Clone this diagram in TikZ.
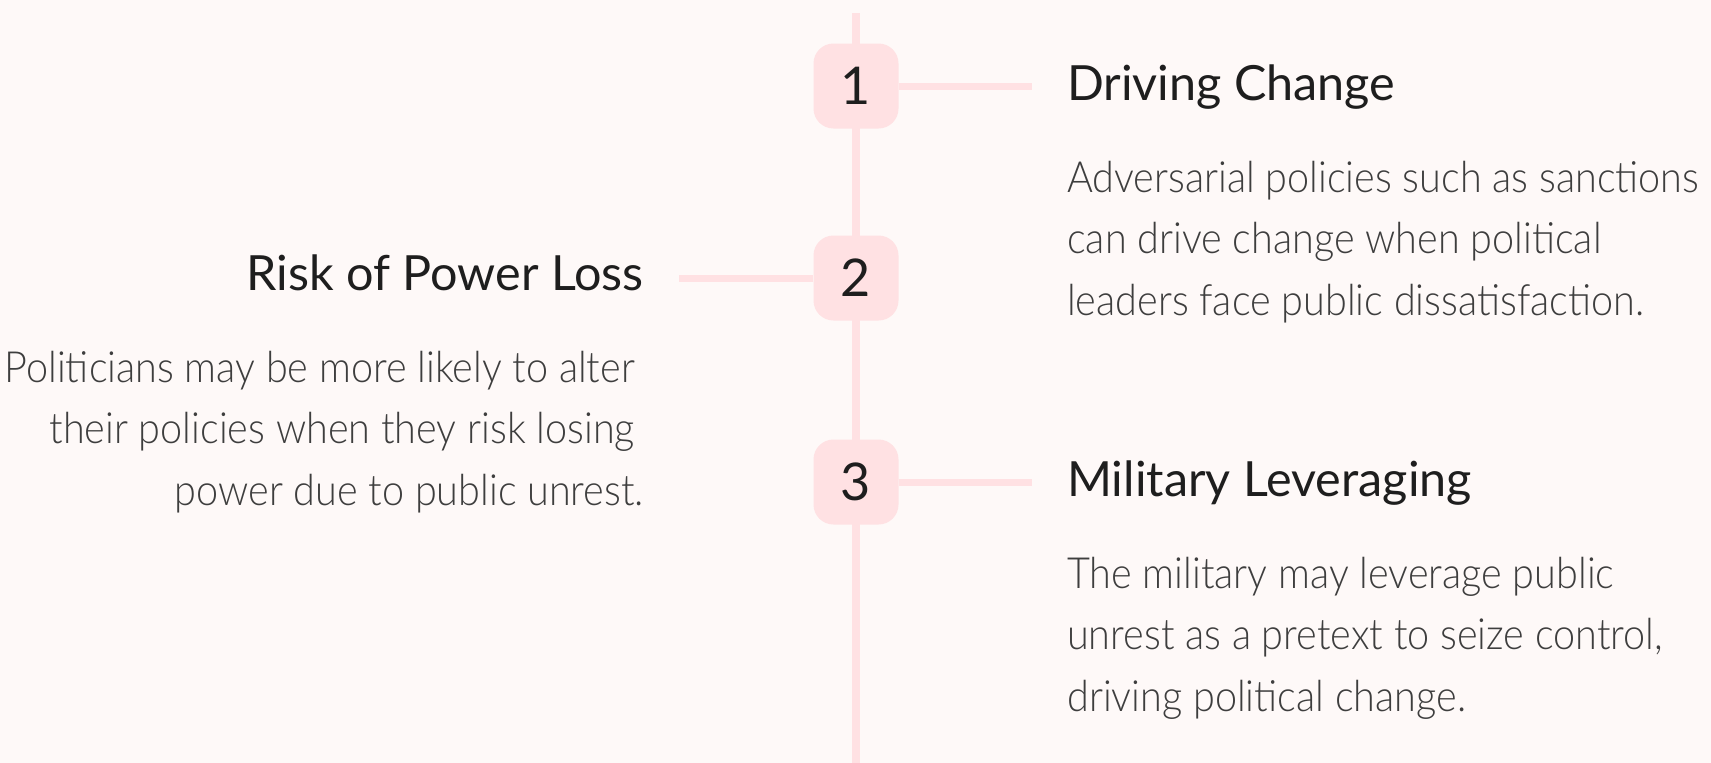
\documentclass[tikz,border=0pt]{standalone}
\usepackage{fontspec}
\setmainfont{Lato}
\newfontfamily\headfont{Lato}
\newfontfamily\bodyfont[FakeStretch=0.92]{Lato Light}
\definecolor{pagebg}{RGB}{254,249,248}
\definecolor{rosefill}{RGB}{255,225,227}
\definecolor{headink}{RGB}{30,30,30}
\definecolor{bodyink}{RGB}{62,62,62}
\tikzset{
  numbox/.style={fill=rosefill, rounded corners=20pt, minimum width=85pt, minimum height=85pt,
    inner sep=0pt, text=headink, font=\headfont\fontsize{52}{52}\selectfont},
  rail/.style={draw=rosefill, line width=8pt},
  stub/.style={draw=rosefill, line width=7pt},
  headline/.style={inner sep=0pt, text=headink, font=\headfont\fontsize{48.5}{48.5}\selectfont},
  bodytext/.style={inner sep=0pt, text=bodyink, font=\bodyfont\fontsize{43}{61.3}\selectfont},
}
\begin{document}
\begin{tikzpicture}[x=1pt,y=-1pt]
  \fill[pagebg] (0,0) rectangle (1711,763);
  \useasboundingbox (0,0) rectangle (1711,763);

  % timeline spine
  \coordinate (top) at (856,13);
  \coordinate (bottom) at (856,763);
  \draw[rail] (top) -- (bottom);

  % numbered markers
  \node[numbox] (n1) at (856,86) {1};
  \node[numbox] (n2) at (856,278) {2};
  \node[numbox] (n3) at (856,482) {3};

  % branch ends
  \coordinate (e1) at (1032,86);
  \coordinate (e2) at (679,278);
  \coordinate (e3) at (1032,482);
  \draw[stub] (n1.east) -- (e1);
  \draw[stub] (n2.west) -- (e2);
  \draw[stub] (n3.east) -- (e3);

  % entry 1 (multi-line nodes are anchored on their last baseline)
  \node[headline, anchor=base west] (h1) at (1067,100) {Driving Change};
  \node[bodytext, anchor=base west, align=left] (b1) at (1067,315)
    {Adversarial policies such as sanctions\\can drive change when political\\leaders face public dissatisfaction.};

  % entry 2
  \node[headline, anchor=base east] (h2) at (644,290) {Risk of Power Loss};
  \node[bodytext, anchor=base east, align=right] (b2) at (644,505)
    {Politicians may be more likely to alter\kern9pt\\their policies when they risk losing\kern9pt\\power due to public unrest.};

  % entry 3
  \node[headline, anchor=base west] (h3) at (1067,496) {Military Leveraging};
  \node[bodytext, anchor=base west, align=left] (b3) at (1067,711)
    {The military may leverage public\\unrest as a pretext to seize control,\\driving political change.};
\end{tikzpicture}
\end{document}
